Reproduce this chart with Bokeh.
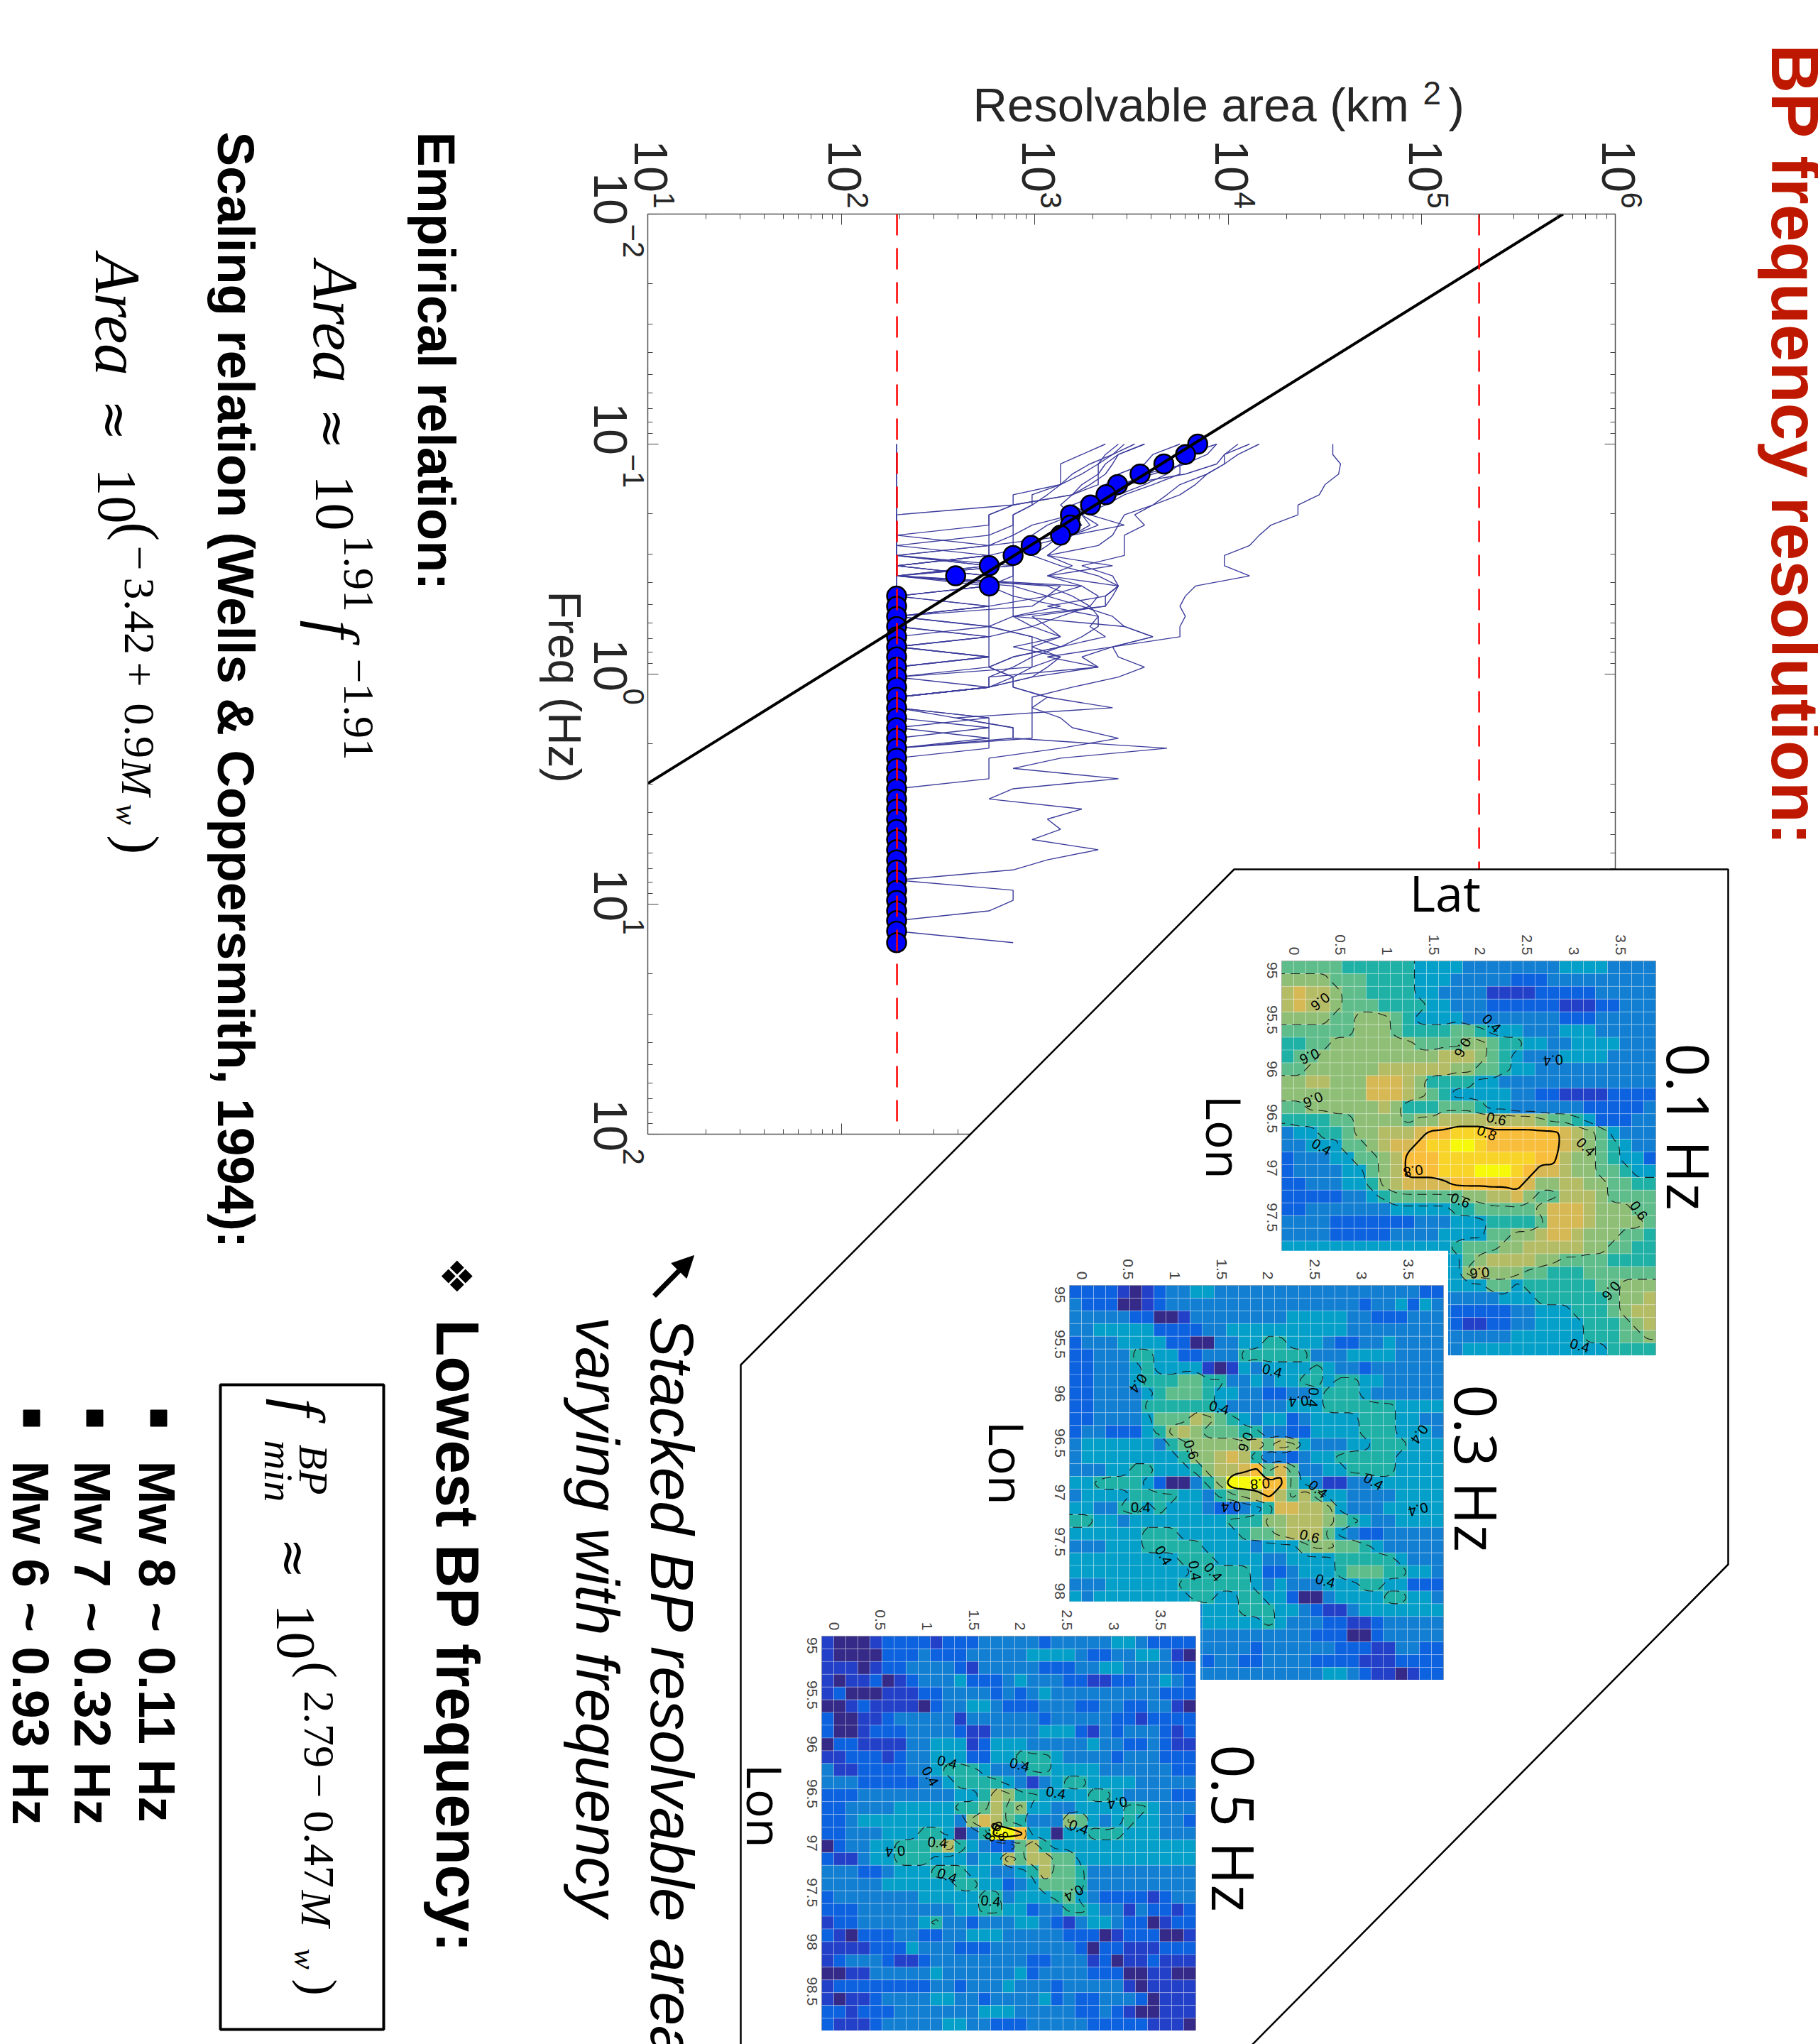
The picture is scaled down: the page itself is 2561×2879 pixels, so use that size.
import math
import numpy as np
from bokeh.embed import file_html
from bokeh.resources import INLINE
from bokeh.plotting import figure
from bokeh.layouts import column
from bokeh.core.properties import value
from bokeh.models import (Range1d, LogAxis, LogTicker, FixedTicker, LinearColorMapper,
                          Arrow, NormalHead, ColumnDataSource)

# ---------- chart data ----------
FREQ_HZ = [0.1, 0.111, 0.122, 0.135, 0.15, 0.166, 0.184, 0.203, 0.225, 0.249, 0.276, 0.305, 0.338,
           0.374, 0.414, 0.458, 0.507, 0.561, 0.621, 0.688, 0.761, 0.842, 0.932, 1.03, 1.14, 1.26,
           1.4, 1.55, 1.71, 1.9, 2.1, 2.32, 2.57, 2.85, 3.15, 3.49, 3.86, 4.27, 4.73, 5.24, 5.8,
           6.42, 7.1, 7.86, 8.7, 9.63, 10.7, 11.8, 13.1, 14.7]
LOG_AREA_LEVELS = dict(a=2.286, b=2.59, c=2.763, d=2.888, e=2.986, f=3.065, g=3.133, h=3.194, i=3.243,
                       j=3.285, k=3.328, l=3.365, m=3.402, n=3.432, o=3.463, P=3.516, p=3.567, q=3.61,
                       r=3.683, s=3.75, t=3.778, u=3.83, v=3.89, w=3.94, x=3.98, y=4.05, z=4.11,
                       A=4.16, B=4.22, C=4.36, E=4.47, F=4.50, G=4.54, H=4.57, I=4.58)
EVENT_CURVES = [
    "GGIHFECCBAzxxzutstssmnpnheeghngccca",
    "AyxvusqPpoooimnllefgegfeca",
    "zxxvsrqonmkfmfnmldegdgedca",
    "yxwtomkijhgfhfikjkjlgdca",
    "wtsrpnkhfeedddddddoqmfkcca",
    "pnlkihghigfegknlfkkigdcddfmbddrgdndcifgekfdaddcaad",
    "ligggddaaaaacacacaaa",
    "Pmkkkhdccacadadfcaacacaa",
    "pnmljhdcccacaagfeaceeeea",
    "wvtpoljikhecaccccccccccddfeeeea",
    "sqpnlkhjohcacaifimoqmikeca",
    "nlkigfeddcccaccacacaa",
    "omjhgeedddddddcaaaacacaacaacca",
    "vutqnljhedccaccdgdcegedccaacaca",
    "utssqoligfeddafhjgecaca",
    "aaaaaaaaaaaaaaaaaaaaaaaaaaabddaa",
    "aaaaaaaaaaaaaaaaaaaaaaaaaaaaccca",
]
DOT_LOG_AREA = [3.842, 3.779, 3.667, 3.544, 3.428, 3.368, 3.288, 3.184, 3.184, 3.133, 2.981, 2.888,
                2.765, 2.591, 2.765] + [2.286] * 35
FIT_FREQ = [0.01, 2.99]
FIT_AREA = [537000, 10]
LIMIT_AREAS = [194, 197700]
LIMIT_FREQ = [0.01, 100]
AREA_DECADES = [1, 2, 3, 4, 5, 6]
FREQ_DECADES = [-2, -1, 0, 1, 2]

# ---------- heat maps: one hex digit per cell, 1 = lowest colour, d = highest ----------
HEAT_01 = [
 "7777766666655554444444455554444", "8888777666655544444333444444444",
 "9a99877666655444422223333344444", "9a99877766665544433333322233444",
 "8888778887655554444444433344444", "7777778887666677655544455544444",
 "6677888888877778876655445555444", "6778888888888999876544455554444",
 "7788888899999988776554444444444", "8899888aaa98666655444444444444",
 "8888888aaa98765555544332222333", "7788888898666777655444444333334",
 "6666778888788999999998776533344", "45566788999abbcccbbbbbba9875444",
 "445557789aabccddcbbbbbba9876544", "3444557789bbbccccccccbb98876553",
 "3444455789bbbcccdddcbaa98877655", "3344455689aaaabbbbbba8899887766",
 "3333344567777778899a87799987777", "3344444445555566777778aaa988877",
 "4444333333344455566667aaa988887", "4444333334444555577889aa9888776",
 "5555555555555567778899999887766", "5566666666655557899998877776666",
 "5566666666655558988877666777777", "5555555555555555577566666677888",
 "4444444444444444445556666667889", "4444444444444433333445556667899",
 "4444444444444432233445555666789", "4444444444444444444555555666778",
 "4444444444444445555555555556666"]
HEAT_03 = [
 "3333212344554444444444444444433", "4333112344444444444444443445354",
 "4444433112444444445555544333444", "4455555333344555555555544444444",
 "3444555533114455665554334454444", "3344466553344466666644455554444",
 "3344456555521254555565443444444", "3344456667766445455665665544444",
 "3344445677765544334456665444444", "3344446666665444445556666665555",
 "3344445777987654553455556665544", "3443335689877766443355556665554",
 "4555555467888889798544455666555", "4555555556889a96443455666665555",
 "44455665556899ab7a7445566665555", "5566665311468dddbb7542244555555",
 "4555566665546789b97975544445555", "55446656555433456aa998544455555",
 "6655455555555666889998765445555", "5555556665555567789997543344444",
 "4445556666655554555788776544444", "5555555556665555445555666665444",
 "5555555555666665334555677766554", "4445555556666665454445556655333",
 "5455555555665566553114555566554", "4444444444455566655432245555555",
 "4444444444455555654443322344444", "4444444444444444444433311344444",
 "4444444444444443444444333224433", "4444444444434433444433332223333",
 "4444444444444444444445543221233"]
HEAT_05 = [
 "2111233332333444443444445543333", "2111133343334444455554334455421",
 "2221233444432444443334455444433", "2122312344453334544433223344543",
 "2311122233444434345444444444333", "1123222213445543334443344334421",
 "3112234444424444443444443323333", "3112333444432244445553243444323",
 "1332222445552355544444544334322", "2233323445553355666544443444333",
 "4223333445666544466555544444433", "4443333344566665424566555544444",
 "3334444444455698665555665444433", "3344445555566797855445555665444",
 "3345555555548a97644487545655443", "33444555665146ddb55155666555444",
 "1344556667965433796555555555555", "3224556665554559799775555555555",
 "4443345556665544569776444444444", "4444455555566553457776444444444",
 "3444444455555664555675433332344", "3334444444455665534466544243323",
 "2334444456443444554324554331233", "3213334433445554444433312333112",
 "2222333544433344444443133222333", "2344432234444444433444231223222",
 "1122444445444444534444333112211", "2333333334434445444344444212222",
 "2122344445544344445343344431222", "3323334444444555444443343211222",
 "3222344444554433344444333332221"]
PALETTE = ["#352a87", "#2340c8", "#0c62df", "#127fd2", "#05a0c9", "#20b1a6", "#5fbd8b", "#8fbf76",
           "#b5bc66", "#d6b954", "#f8bd3a", "#f8d428", "#f6fa0a"]
CONTOUR_LEVELS = [(5.5, "0.4"), (7.5, "0.6"), (10.5, "0.8")]
LABELS_01 = [(3.2,3.2,"0.6",-142),(2.3,7.5,"0.6",-156),(2.6,10.9,"0.6",-157),(15,6.8,"0.6",-119),
             (17.4,4.9,"0.4",-45),(22.5,7.8,"0.4",-175),(3.3,14.6,"0.4",-30),(17.8,12.4,"0.6",-12),
             (17,13.5,"0.8",-22),(10.9,16.5,"0.8",-170),(14.8,18.8,"0.6",-20),(25.2,14.6,"0.4",-45),
             (29.6,19.6,"0.6",-55),(16.4,24.5,"0.6",-175),(27.3,25.9,"0.6",-130),(24.7,30.2,"0.4",-15)]
LABELS_03 = [(16.8,6.7,"0.4",-15),(5.7,7.7,"0.4",-125),(12.4,9.6,"0.4",-15),(20.2,8.8,"0.4",-95),
             (19,9.1,"0.4",-175),(14.6,12.3,"0.6",-110),(10.1,12.9,"0.6",-70),(29,11.7,"0.4",-125),
             (25.2,15.4,"0.4",-30),(15.8,15.6,"0.8",-175),(20.6,16,"0.4",-40),(5.9,17.4,"0.4",0),
             (13.4,17.4,"0.4",-175),(28.9,17.6,"0.4",-165),(19.9,19.7,"0.6",-15),(7.8,21.2,"0.4",-60),
             (10.4,22.4,"0.4",-80),(11.9,22.5,"0.4",-50),(21.2,23.2,"0.4",-15)]
LABELS_05 = [(10.4,9.9,"0.4",-15),(9,11,"0.4",-60),(16.4,10.1,"0.4",-15),(19.4,12.3,"0.4",-10),
             (24.5,13.1,"0.4",-170),(21.3,15,"0.4",-20),(20.9,20.2,"0.4",-150),(9.6,16.2,"0.4",-5),
             (6.1,16.9,"0.4",-175),(10.4,18.8,"0.4",-20),(14,20.8,"0.4",-5),(14.8,15.3,"0.8",-60),
             (14.2,15.4,"0.8",-120)]
LAT_TICKS = [0, 0.5, 1, 1.5, 2, 2.5, 3, 3.5]
LON_TICKS = [95, 95.5, 96, 96.5, 97, 97.5, 98, 98.5]
LAT_RANGE = (-0.13, 3.88)
LON_RANGE = (98.9, 94.905)

ROT = -math.pi / 2
SANS = "Liberation Sans"
SERIF = "Liberation Serif"
OPEN = "Open Sans"
NUMERIC = set("0123456789.−+")


def place(fig, left, top):
    fig.styles = {"position": "absolute", "left": f"{left}px", "top": f"{top}px"}
    fig.frame_align = False
    return fig


# ---------- log-log chart ----------
BL, BT = 60, 60
chart = figure(frame_width=1363, frame_height=1296, x_axis_type="log", y_axis_type="log",
               x_range=Range1d(10, 1e6), y_range=Range1d(100, 0.01), x_axis_location="above",
               min_border_left=BL, min_border_top=BT, min_border_right=BL, min_border_bottom=BT,
               toolbar_location=None, output_backend="svg", outline_line_color="#555555",
               background_fill_color="white")
chart.grid.visible = False
chart.add_layout(LogAxis(), "below")
chart.add_layout(LogAxis(), "right")
for ax in chart.axis:
    ax.ticker = LogTicker(mantissas=[1], num_minor_ticks=10)
    ax.major_tick_in = 15
    ax.major_tick_out = 0
    ax.minor_tick_in = 7
    ax.minor_tick_out = 0
    ax.axis_line_color = "#555555"
    ax.axis_line_width = 1.5
    ax.major_tick_line_color = "#444444"
    ax.minor_tick_line_color = "#444444"
    ax.major_label_text_font_size = "1px"
    ax.major_label_text_alpha = 0

for code in EVENT_CURVES:
    code = code.ljust(len(FREQ_HZ), "a")
    chart.line([10 ** LOG_AREA_LEVELS[c] for c in code], FREQ_HZ, line_color="#3c3c9c", line_width=1.4)
chart.scatter([10 ** v for v in DOT_LOG_AREA], FREQ_HZ, size=27, fill_color="#0000ff",
              line_color="black", line_width=2.5)
chart.line(FIT_AREA, FIT_FREQ, line_color="black", line_width=4)
for a in LIMIT_AREAS:
    chart.line([a, a], LIMIT_FREQ, line_color="#ff0000", line_width=2.5, line_dash="30 18")


# ---------- full-page overlays with the panel outline and all texts ----------
def overlay():
    f = figure(frame_width=2561, frame_height=2879, x_range=Range1d(0, 2561), y_range=Range1d(2879, 0),
               x_axis_type=None, y_axis_type=None, min_border_left=0, min_border_right=0, min_border_top=0,
               min_border_bottom=0, toolbar_location=None, output_backend="svg", outline_line_color=None,
               background_fill_alpha=0, border_fill_alpha=0)
    f.grid.visible = False
    return f


slide = overlay()
front = overlay()


def txt(x, y, s, size, font=SANS, style="normal", color="black", angle=ROT, fig=None):
    # (x, y) is the start of the baseline; the text box is anchored on its bottom edge,
    # which lies under the baseline for words and slightly over it for plain numbers
    drop = -0.06 * size if all(ch in NUMERIC for ch in s) else 0.21 * size
    if angle == 0:
        y = y + drop
    else:
        x = x - drop
    (fig or slide).text([x], [y], text=[s], angle=angle, text_font=value(font), text_font_style=style,
                        text_color=color, text_font_size=value(f"{size}px"), text_align="left",
                        text_baseline="bottom")


slide.patch([1738, 2434, 2434, 1758, 1043, 1043], [1224, 1224, 2203, 2885, 2885, 1922],
            fill_color="white", line_color="black", line_width=2.5)
slide.patch([310, 540, 540, 310], [1950, 1950, 2858, 2858], fill_alpha=0, line_color="black", line_width=4)

DARK = "#262626"
txt(2495, 62, "BP frequency resolution:", 95, style="bold", color="#bf1800")
txt(1370, 170, "Resolvable area (km", 67, color=DARK, angle=0)
txt(2004, 149, "2", 46, color=DARK, angle=0)
txt(2040, 170, ")", 67, color=DARK, angle=0)
txt(772, 832, "Freq (Hz)", 64, color=DARK)
for d in AREA_DECADES:
    t = 912 + (d - 1) * 272.6
    txt(t - 22, 197, "10", 66, color=DARK)
    txt(t + 6, 270, str(d), 42, color=DARK)
for d in FREQ_DECADES:
    t = 301 + (d + 2) * 324
    neg = d < 0
    txt(833, t - (58 if neg else 49), "10", 66, color=DARK)
    txt(875, t + (14 if neg else 20), str(d).replace("-", "−"), 42, color=DARK)

txt(588, 185, "Empirical relation:", 74, style="bold")
txt(307, 185, "Scaling relation (Wells & Coppersmith, 1994):", 73, style="bold")
txt(441, 367, "Area", 90, SERIF, "italic")
txt(442, 574, "≈", 70, "DejaVu Serif")
txt(441, 669, "10", 78, SERIF)
txt(481, 753, "1.91", 62, SERIF)
txt(441, 873, "f", 90, SERIF, "italic")
txt(481, 927, "−1.91", 62, SERIF)
txt(134, 357, "Area", 90, SERIF, "italic")
txt(135, 562, "≈", 70, "DejaVu Serif")
txt(134, 659, "10", 78, SERIF)
txt(167, 735, "(", 80, SERIF)
txt(172, 768, "−", 62, SERIF)
txt(172, 813, "3.42", 62, SERIF)
txt(172, 932, "+", 62, SERIF)
txt(172, 990, "0.9", 62, SERIF)
txt(172, 1069, "M", 62, SERIF, "italic")
txt(163, 1132, "w", 44, SERIF, "italic")
txt(167, 1176, ")", 80, SERIF)

txt(916, 1854, "Stacked BP resolvable area", 85, style="italic")
txt(811, 1854, "varying with frequency", 85, style="italic")
txt(614, 1858, "Lowest BP frequency:", 85, style="bold")
txt(620, 1770, "❖", 60, "DejaVu Sans")
slide.add_layout(Arrow(end=NormalHead(size=30, fill_color="black", line_color="black"),
                       x_start=921, y_start=1825, x_end=977, y_end=1768, line_width=7, line_color="black"))

txt(393, 1969, "f", 90, SERIF, "italic")
txt(421, 2034, "BP", 58, SERIF, "italic")
txt(372, 2028, "min", 58, SERIF, "italic")
txt(387, 2165, "≈", 70, "DejaVu Serif")
txt(386, 2259, "10", 78, SERIF)
txt(425, 2340, "(", 70, SERIF)
txt(425, 2381, "2.79", 62, SERIF)
txt(425, 2497, "−", 62, SERIF)
txt(425, 2550, "0.47", 62, SERIF)
txt(425, 2662, "M", 62, SERIF, "italic")
txt(414, 2744, "w", 44, SERIF, "italic")
txt(425, 2787, ")", 70, SERIF)

slide.scatter([223, 133, 44], [1997, 1997, 1997], marker="square", size=23, fill_color="black", line_color="black")
for x, s in zip([196, 105, 18], ["Mw 8 ~ 0.11 Hz", "Mw 7 ~ 0.32 Hz", "Mw 6 ~ 0.93 Hz"]):
    txt(x, 2057, s, 73, style="bold")

txt(1985, 1290, "Lat", 70, OPEN, angle=0, fig=front)
txt(1693, 1542, "Lon", 68, OPEN, fig=front)
txt(1387, 2001, "Lon", 68, OPEN, fig=front)
txt(1046, 2484, "Lon", 68, OPEN, fig=front)
txt(2341, 1469, "0.1 Hz", 82, OPEN, fig=front)
txt(2042, 1950, "0.3 Hz", 82, OPEN, fig=front)
txt(1700, 2457, "0.5 Hz", 82, OPEN, fig=front)


# ---------- heat maps ----------
def contour_lines(V, lev):
    pad = np.pad(V, 1, mode="edge")
    links = {}

    def add(a, b):
        links.setdefault(a, []).append(b)
        links.setdefault(b, []).append(a)

    n, m = pad.shape
    for r in range(n - 1):
        for c in range(m - 1):
            a, b, d, e = pad[r, c], pad[r, c + 1], pad[r + 1, c], pad[r + 1, c + 1]
            pts = []
            if (a - lev) * (b - lev) < 0:
                pts.append((round(float(c + (lev - a) / (b - a)), 3), float(r)))
            if (b - lev) * (e - lev) < 0:
                pts.append((float(c + 1), round(float(r + (lev - b) / (e - b)), 3)))
            if (d - lev) * (e - lev) < 0:
                pts.append((round(float(c + (lev - d) / (e - d)), 3), float(r + 1)))
            if (a - lev) * (d - lev) < 0:
                pts.append((float(c), round(float(r + (lev - a) / (d - a)), 3)))
            if len(pts) == 2:
                add(pts[0], pts[1])
            elif len(pts) == 4:
                add(pts[0], pts[3])
                add(pts[1], pts[2])
    seen = set()
    lines = []
    starts = [k for k, v in links.items() if len(v) == 1] + list(links)
    for s in starts:
        if s in seen:
            continue
        line = [s]
        seen.add(s)
        cur = s
        while True:
            nxt = [q for q in links[cur] if q not in seen]
            if not nxt:
                break
            cur = nxt[0]
            seen.add(cur)
            line.append(cur)
        if s in links[cur] and len(line) > 2:
            line.append(s)
        if len(line) >= 3:
            lines.append(line)
    out = []
    for line in lines:
        for _ in range(2):
            new = [line[0]]
            for p, q in zip(line[:-1], line[1:]):
                new.append((0.75 * p[0] + 0.25 * q[0], 0.75 * p[1] + 0.25 * q[1]))
                new.append((0.25 * p[0] + 0.75 * q[0], 0.25 * p[1] + 0.75 * q[1]))
            new.append(line[-1])
            line = new
        out.append([(x - 1 + 0.5, y - 1 + 0.5) for x, y in line])
    return out


mapper = LinearColorMapper(palette=PALETTE, low=1, high=14)
PANEL_LEFT_MARGIN = 45


def heat_panel(rows, labels, frame_left, top):
    rows = [(s + s[-1] * 31)[:31] for s in rows][:31]
    V = np.array([[int(ch, 16) for ch in s] for s in rows], dtype=float)
    dlat = (LAT_RANGE[1] - LAT_RANGE[0]) / 31
    dlon = (LON_RANGE[0] - LON_RANGE[1]) / 31
    to_lat = lambda c: LAT_RANGE[0] + c * dlat
    to_lon = lambda r: LON_RANGE[1] + r * dlon
    p = figure(frame_width=527, frame_height=556, x_range=Range1d(*LAT_RANGE), y_range=Range1d(*LON_RANGE),
               x_axis_location="above", min_border_left=PANEL_LEFT_MARGIN, min_border_top=49, min_border_right=7,
               min_border_bottom=0, toolbar_location=None, output_backend="svg",
               outline_line_color="#999999", border_fill_color="white")
    p.grid.visible = False
    rr, cc = np.mgrid[0:31, 0:31]
    src = ColumnDataSource(dict(x=to_lat(cc.ravel() + 0.5), y=to_lon(rr.ravel() + 0.5), v=V.ravel()))
    p.rect("x", "y", width=dlat, height=dlon, source=src, fill_color={"field": "v", "transform": mapper},
           line_color="#ffffff", line_alpha=0.28, line_width=1)
    for lev, name in CONTOUR_LEVELS:
        ls = contour_lines(V, lev)
        if not ls:
            continue
        xs = [[float(to_lat(a)) for a, _ in l] for l in ls]
        ys = [[float(to_lon(b)) for _, b in l] for l in ls]
        if name == "0.8":
            p.multi_line(xs, ys, line_color="black", line_width=2.2)
        else:
            p.multi_line(xs, ys, line_color="#1a1a1a", line_width=1.1, line_dash="13 8")
    for c, r, s, ang in labels:
        p.text([to_lat(c)], [to_lon(r)], text=[s], angle=math.radians(ang), text_font=value(SANS),
               text_font_size=value("20px"), text_color="black", text_align="center", text_baseline="middle")
    # rotated labels on a left axis end at their tick, so each tick sits half a label further on
    shifted = {t + (0.084 if float(t).is_integer() else 0.147): f"{t:g}" for t in LON_TICKS}
    for ax, ticks in ((p.xaxis[0], LAT_TICKS), (p.yaxis[0], list(shifted))):
        ax.ticker = FixedTicker(ticks=ticks)
        ax.major_tick_in = 0
        ax.major_tick_out = 0
        ax.minor_tick_line_color = None
        ax.axis_line_color = None
        ax.major_label_orientation = ROT
        ax.major_label_text_font = SANS
        ax.major_label_text_font_size = "21px"
        ax.major_label_text_color = "#444444"
        ax.major_label_standoff = 8
    p.yaxis[0].major_label_overrides = shifted
    p.yaxis[0].major_label_standoff = 14
    return place(p, frame_left - PANEL_LEFT_MARGIN, top)


panel1 = heat_panel(HEAT_01, LABELS_01, 1805, 1304)
panel2 = heat_panel(HEAT_03, LABELS_03, 1506, 1761)
panel3 = heat_panel(HEAT_05, LABELS_05, 1157, 2255)
place(chart, 912 - BL, 301 - BT)
place(slide, 0, 0)
place(front, 0, 0)

root = column(chart, slide, panel1, panel2, panel3, front, width=2561, height=2879)
open("out.html", "w").write(file_html(root, INLINE))
